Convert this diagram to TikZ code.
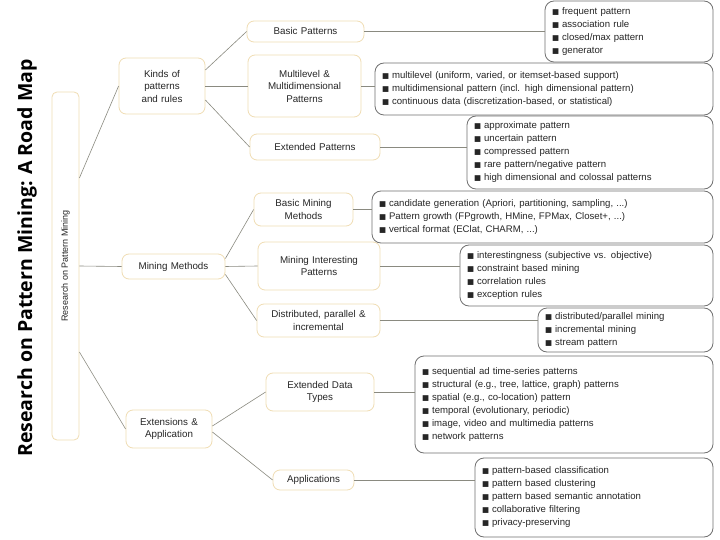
\documentclass[tikz,border=0pt]{standalone}
\usepackage{fontspec}
\setmainfont{Liberation Sans}
\newfontfamily\dejavu{DejaVu Sans}
\newfontfamily\titlefont{Open Sans}
\newcommand{\bl}{{\dejavu\fontsize{7.5}{7.5}\selectfont ■}\hspace{3pt}}
\definecolor{tan}{HTML}{F0DDB4}
\definecolor{gline}{HTML}{8A8A80}
\definecolor{rbox}{HTML}{707070}
\newcommand{\bx}[7]{%
  \node[#6, minimum width={#4-#2}, minimum height={#5-#3}, text width={#4-#2-14}]
    (#1) at ({(#2+#4)/2},{(#3+#5)/2}) {#7};}
\begin{document}
\begin{tikzpicture}[x=1pt,y=-1pt,
  midbox/.style={draw=tan, line width=0.8pt, rounded corners=7pt, inner sep=0pt, align=center, font=\fontsize{9.8}{12.5}\selectfont, text=black!85},
  listbox/.style={draw=rbox, line width=0.8pt, rounded corners=9pt, inner sep=0pt, align=left, font=\fontsize{9.6}{13}\selectfont, text=black!85},
  conn/.style={draw=gline, line width=0.6pt}]
\useasboundingbox (0,0) rectangle (720,540);
\fill[white] (0,0) rectangle (720,540);
\node[rotate=90, font=\titlefont\bfseries\fontsize{19.5}{19.5}\selectfont] (title) at (27,258) {Research on Pattern Mining: A Road Map};
\node[draw=tan, line width=0.8pt, rounded corners=5pt, minimum width=27, minimum height=348, inner sep=0pt] (root) at (65.5,266) {};
\node[rotate=90, font=\fontsize{9}{10}\selectfont, text=black!85] (rootlabel) at (root.center) {Research on Pattern Mining};
\bx{kinds}{119}{58}{205}{114}{midbox}{Kinds of\\patterns\\and rules}
\bx{mm}{122}{254}{225}{279}{midbox}{Mining Methods}
\bx{ext}{126}{410}{212}{448}{midbox}{Extensions \&\\Application}
\bx{bp}{247}{21}{364}{42}{midbox}{Basic Patterns}
\bx{ml}{248}{55}{361}{117}{midbox}{Multilevel \&\\Multidimensional\\Patterns}
\bx{ep}{250}{134}{380}{160}{midbox}{Extended Patterns}
\bx{bmm}{254}{193}{353}{226}{midbox}{Basic Mining\\Methods}
\bx{mip}{258}{242}{380}{290}{midbox}{Mining Interesting\\Patterns}
\bx{dpi}{257}{304}{380}{337}{midbox}{Distributed, parallel \&\\incremental}
\bx{edt}{266}{373}{374}{411}{midbox}{Extended Data\\Types}
\bx{app}{273}{470}{354}{490}{midbox}{Applications}
\bx{l1}{545}{1}{713}{62}{listbox}{\bl frequent pattern\\\bl association rule\\\bl closed/max pattern\\\bl generator}
\bx{l2}{375}{63}{713}{115}{listbox}{\bl multilevel (uniform, varied, or itemset-based support)\\\bl multidimensional pattern (incl. high dimensional pattern)\\\bl continuous data (discretization-based, or statistical)}
\bx{l3}{467}{116}{713}{189}{listbox}{\bl approximate pattern\\\bl uncertain pattern\\\bl compressed pattern\\\bl rare pattern/negative pattern\\\bl high dimensional and colossal patterns}
\bx{l4}{372}{191}{713}{243}{listbox}{\bl candidate generation (Apriori, partitioning, sampling, ...)\\\bl Pattern growth (FPgrowth, HMine, FPMax, Closet+, ...)\\\bl vertical format (EClat, CHARM, ...)}
\bx{l5}{460}{245}{713}{306}{listbox}{\bl interestingness (subjective vs. objective)\\\bl constraint based mining\\\bl correlation rules\\\bl exception rules}
\bx{l6}{538}{308}{713}{352}{listbox}{\bl distributed/parallel mining\\\bl incremental mining\\\bl stream pattern}
\bx{l7}{415}{356}{713}{453}{listbox}{\bl sequential ad time-series patterns\\\bl structural (e.g., tree, lattice, graph) patterns\\\bl spatial (e.g., co-location) pattern\\\bl temporal (evolutionary, periodic)\\\bl image, video and multimedia patterns\\\bl network patterns}
\bx{l8}{475}{458}{713}{537}{listbox}{\bl pattern-based classification\\\bl pattern based clustering\\\bl pattern based semantic annotation\\\bl collaborative filtering\\\bl privacy-preserving}
% connectors
\draw[conn] ([yshift=88]root.east) -- (kinds.west);
\draw[conn] (root.east) -- (mm.west);
\draw[conn] ([yshift=-86]root.east) -- (ext.west);
\draw[conn] ([yshift=16]kinds.east) -- (bp.west);
\draw[conn] (kinds.east) -- (ml.west);
\draw[conn] ([yshift=-14]kinds.east) -- (ep.west);
\draw[conn] ([yshift=8]mm.east) -- (bmm.west);
\draw[conn] (mm.east) -- (mip.west);
\draw[conn] ([yshift=-8]mm.east) -- (dpi.west);
\draw[conn] ([yshift=3]ext.east) -- (edt.west);
\draw[conn] ([yshift=-3]ext.east) -- (app.west);
\draw[conn] (bp.east) -- (bp.east -| l1.west);
\draw[conn] (ml.east) -- (ml.east -| l2.west);
\draw[conn] (ep.east) -- (ep.east -| l3.west);
\draw[conn] (bmm.east) -- (bmm.east -| l4.west);
\draw[conn] (mip.east) -- (mip.east -| l5.west);
\draw[conn] (dpi.east) -- (dpi.east -| l6.west);
\draw[conn] (edt.east) -- (edt.east -| l7.west);
\draw[conn] (app.east) -- (app.east -| l8.west);
\end{tikzpicture}
\end{document}
